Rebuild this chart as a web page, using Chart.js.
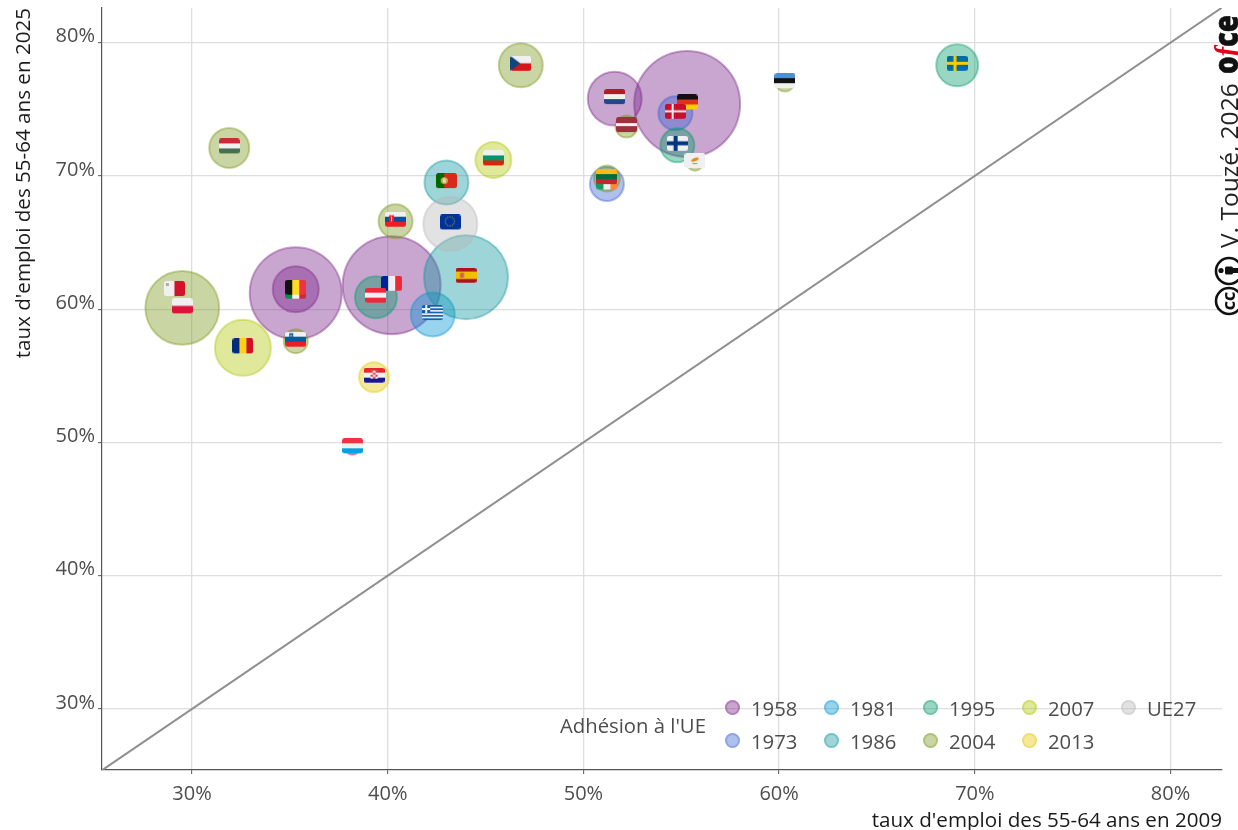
<!DOCTYPE html>
<html lang="fr">
<head>
<meta charset="utf-8">
<title>Taux d'emploi des 55-64 ans</title>
<script src="https://cdn.jsdelivr.net/npm/chart.js@4"></script>
<style>
  html, body { margin: 0; padding: 0; background: #fff; overflow: hidden; }
  #wrap { position: relative; width: 1238px; height: 830px; }
  #chart { position: absolute; left: 0; top: 0; }
  #legendTitle { position: absolute; left: 560px; top: 711px; font: 20.3px "Open Sans"; color: #4d4d4d; white-space: nowrap; }
  #legend { position: absolute; left: 725px; top: 691px; display: grid; grid-auto-flow: column;
            grid-template-rows: repeat(2, 33px); grid-template-columns: repeat(5, 99px); }
  #legend div { display: flex; align-items: center; font: 20.3px "Open Sans"; color: #4d4d4d; }
  #legend i { width: 11px; height: 11px; border-radius: 50%; border-width: 2px; border-style: solid; margin-right: 11px; }
  #credit { position: absolute; left: 1190px; top: 0; }
</style>
</head>
<body>
<div id="wrap">
  <canvas id="chart" width="1238" height="830"></canvas>
  <div id="legendTitle">Adhésion à l'UE</div>
  <div id="legend"></div>
  <svg id="credit" width="48" height="330" viewBox="1190 0 48 330">
    <g transform="translate(1238,248) rotate(-90)">
      <text font-family="Open Sans" font-size="24.5" fill="#222">V. Touzé, 2026</text>
    </g>
    <g transform="translate(1238,74) rotate(-90)" font-family="Open Sans" font-size="34" font-weight="800" fill="#111" stroke="#111" stroke-width="0.6">
      <text textLength="59" lengthAdjust="spacingAndGlyphs">o<tspan fill="#e2001a" stroke="none" font-style="italic" font-family="Liberation Serif">f</tspan>ce</text>
    </g>
    <g fill="none" stroke="#111" stroke-width="2.6">
      <circle cx="1229" cy="301" r="13"></circle>
      <circle cx="1229" cy="271" r="13"></circle>
    </g>
    <g transform="translate(1235,301) rotate(-90)">
      <text text-anchor="middle" font-family="Open Sans" font-weight="700" font-size="18" fill="#111">cc</text>
    </g>
    <circle cx="1221" cy="270.5" r="2.6" fill="#111"></circle>
    <rect x="1225" y="266.5" width="8" height="8" rx="1.5" fill="#111"></rect>
    <rect x="1232" y="268" width="6" height="5" fill="#111"></rect>
  </svg>
</div>
<script>
const countries = ['DE','NL','LV','CY','EE','SE','CZ','HU','BG','PT','SK','EU','ES','FR','GR','IT','BE','MT','PL','RO','SI','HR','LU','IE','LT','DK','FI','AT'];
const joinYear  = ['1958','1958','2004','2004','2004','1995','2004','2004','2007','1986','2004','UE27','1986','1958','1981','1958','1958','2004','2004','2007','2004','2013','1958','1973','2004','1973','1995','1995'];
const rate2009  = [55.3,51.6,52.2,55.7,60.3,69.1,46.8,31.9,45.4,43.0,40.4,43.2,44.0,40.2,42.3,35.3,35.3,29.1,29.5,32.6,35.3,39.3,38.2,51.2,51.2,54.7,54.8,39.4];
const rate2025  = [75.4,75.8,73.7,71.0,77.0,78.3,78.3,72.1,71.2,69.5,66.6,66.4,62.4,61.8,59.6,61.2,61.5,61.4,60.1,57.1,57.6,54.9,49.6,69.4,69.8,74.7,72.3,60.9];
const population = [13.0,3.37,0.56,0.30,0.37,2.04,2.24,1.85,1.50,2.24,1.34,3.37,8.16,11.1,2.24,9.8,2.45,0.12,6.3,3.63,0.67,1.04,0.23,1.34,0.78,1.34,1.34,2.04];

const years = ['1958','1973','1981','1986','1995','2004','2007','2013','UE27'];
const yearColors = ['120,32,135','55,97,207','0,148,212','12,150,157','0,155,102','120,150,22','175,197,5','227,200,0','182,182,182'];

const xTicks = [30,40,50,60,70,80];
const yTicks = [30,40,50,60,70,80];
const diagonal = [25.4,82.63];
const xRange = [25.4,82.63];
const yRange = [25.42,82.6];

const sizeK = 14.7; // rayon en px pour 1 million (racine)
const W = '#f0f0f0';

// bandes de chaque drapeau
const flagStripes = {
  DE:['h','#111111','#e0301e','#ffcc00'], NL:['h','#ae1c28',W,'#21468b'], LV:['h','#9e3039','#9e3039',W,'#9e3039','#9e3039'],
  CY:['h',W], EE:['h','#4891d9','#111111',W], SE:['h','#006aa7'], CZ:['h',W,'#d7141a'], HU:['h','#ce2939',W,'#477050'],
  BG:['h',W,'#00966e','#d62612'], PT:['v','#006600','#006600','#da291c','#da291c','#da291c'], SK:['h',W,'#0b4ea2','#ee1c25'],
  EU:['h','#003399'], ES:['h','#aa151b','#f1bf00','#f1bf00','#aa151b'], FR:['v','#002395',W,'#ed2939'],
  GR:['h','#0d5eaf',W,'#0d5eaf',W,'#0d5eaf',W,'#0d5eaf',W,'#0d5eaf'], IT:['v','#009246',W,'#ce2b37'], BE:['v','#111111','#fdda24','#ef3340'],
  MT:['v',W,'#cf142b'], PL:['h',W,'#dc143c'], RO:['v','#002b7f','#fcd116','#ce1126'], SI:['h',W,'#005da4','#ed1c24'],
  HR:['h','#e8262d',W,'#171796'], LU:['h','#ef3340',W,'#00a3e0'], IE:['v','#169b62',W,'#ff883e'], LT:['h','#fdb913','#006a44','#c1272d'],
  DK:['h','#c8102e'], FI:['h',W], AT:['h','#ed2939',W,'#ed2939']
};

function cross(c, w, h, color, t) {
  c.fillStyle = color;
  c.fillRect(w*0.32, 0, t, h);
  c.fillRect(0, h/2 - t/2, w, t);
}
function makeFlag(code) {
  const w = 21, h = 15;
  const cv = document.createElement('canvas');
  cv.width = w; cv.height = h + 4; // 4px de plus en bas : le drapeau est un peu au-dessus du centre
  const c = cv.getContext('2d');
  c.beginPath();
  c.roundRect(0, 0, w, h, 2.5);
  c.clip();
  const s = flagStripes[code], dir = s[0], bands = s.slice(1);
  bands.forEach((col, i) => {
    c.fillStyle = col;
    if (dir === 'h') c.fillRect(0, h*i/bands.length, w, h/bands.length + 0.5);
    else c.fillRect(w*i/bands.length, 0, w/bands.length + 0.5, h);
  });
  if (code === 'DK') cross(c, w, h, W, 2);
  if (code === 'FI') cross(c, w, h, '#003580', 4);
  if (code === 'SE') cross(c, w, h, '#fecc00', 3);
  if (code === 'CZ') { c.fillStyle = '#11457e'; c.beginPath(); c.moveTo(0,0); c.lineTo(10,h/2); c.lineTo(0,h); c.fill(); }
  if (code === 'GR') { c.fillStyle = '#0d5eaf'; c.fillRect(0,0,8,8); c.fillStyle = W; c.fillRect(3,0,2,8); c.fillRect(0,3,8,2); }
  if (code === 'CY') { c.fillStyle = '#e08a1e'; c.beginPath(); c.ellipse(10.5,6.5,4,1.5,-0.4,0,7); c.fill(); c.fillStyle = '#7ea56b'; c.fillRect(8,10,5,1); }
  if (code === 'MT') { c.fillStyle = '#b5a9ad'; c.fillRect(2,2,3,3); }
  if (code === 'PT') { c.fillStyle = '#c9a93a'; c.beginPath(); c.arc(8.4,7.5,3.6,0,7); c.fill(); c.fillStyle = '#e4d9d0'; c.fillRect(6.9,5.5,3,4); }
  if (code === 'ES') { c.fillStyle = '#c8625a'; c.fillRect(4.5,5,4,5); }
  if (code === 'SK') { c.fillStyle = '#ee1c25'; c.fillRect(4,3.5,5,7); c.fillStyle = W; c.fillRect(6,4.5,1,5); }
  if (code === 'SI') { c.fillStyle = '#005da4'; c.fillRect(4,1.5,4,5); c.fillStyle = W; c.fillRect(5.5,3,1,2); }
  if (code === 'HR') { c.fillStyle = '#d9464a'; c.fillRect(7,2,7,9); c.fillStyle = W; for (let i=0;i<4;i++) for (let j=0;j<3;j++) if ((i+j)%2) c.fillRect(7+j*2.4,3+i*2,2.4,2); }
  if (code === 'EU') { c.fillStyle = '#c9b23a'; for (let a=0;a<12;a++) c.fillRect(10+4.6*Math.cos(a*Math.PI/6)-0.5, 7+4.6*Math.sin(a*Math.PI/6)-0.5, 1, 1); }
  return cv;
}
const flagImages = countries.map(makeFlag);

// un dataset de bulles par année d'adhésion, 1958 dessous
const bubbleSets = years.map((yr, k) => {
  const pts = [];
  countries.forEach((_, i) => {
    if (joinYear[i] === yr) pts.push({x: rate2009[i], y: rate2025[i], r: sizeK*Math.sqrt(population[i])});
  });
  return {
    type: 'bubble', label: yr, data: pts, order: 20 - k,
    backgroundColor: `rgba(${yearColors[k]},0.4)`,
    borderColor: `rgba(${yearColors[k]},0.4)`,
    borderWidth: 2
  };
});

const flagSet = {
  type: 'scatter', label: 'drapeaux', order: 0,
  data: countries.map((_, i) => ({x: rate2009[i], y: rate2025[i]})),
  pointStyle: flagImages, pointRadius: 10, pointHoverRadius: 10
};
const diagSet = {
  type: 'line', label: 'diagonale', order: 30,
  data: diagonal.map(v => ({x: v, y: v})),
  borderColor: '#8f8f8f', borderWidth: 2, pointRadius: 0, fill: false
};

function axis(pos, range, ticks, title, thickness) {
  const isX = pos === 'bottom';
  return {
    type: 'linear', position: pos, min: range[0], max: range[1],
    afterBuildTicks: s => { s.ticks = ticks.map(v => ({value: v})); },
    afterFit: s => {
      if (isX) { s.height = thickness; s.paddingLeft = 0; s.paddingRight = 0; }
      else { s.width = thickness; s.paddingTop = 0; s.paddingBottom = 0; }
    },
    grid: { color: '#dedede', lineWidth: 1.3, tickColor: '#555', tickLength: 4, tickWidth: 1 },
    border: { color: '#555', width: 1.2 },
    ticks: { color: '#4d4d4d', font: {family: 'Open Sans', size: 20}, padding: isX ? 8 : 3, labelOffset: isX ? 0 : -6, maxRotation: 0, autoSkip: false, callback: v => v + '%' },
    title: { display: true, text: title, align: 'end', color: '#1a1a1a', font: {family: 'Open Sans', size: 20.6}, padding: isX ? {top: 0, bottom: -3} : {top: 0, bottom: 0} }
  };
}

new Chart(document.getElementById('chart'), {
  data: { datasets: [flagSet, ...bubbleSets, diagSet] },
  options: {
    responsive: false, animation: false,
    layout: { autoPadding: false, padding: {left: 12, top: 8, right: 16, bottom: 0} },
    plugins: { legend: {display: false}, tooltip: {enabled: false} },
    scales: {
      x: axis('bottom', xRange, xTicks, "taux d'emploi des 55-64 ans en 2009", 60),
      y: axis('left', yRange, yTicks, "taux d'emploi des 55-64 ans en 2025", 90)
    }
  }
});

// légende en colonnes
const legendBox = document.getElementById('legend');
years.forEach((yr, k) => {
  const d = document.createElement('div');
  const dot = document.createElement('i');
  dot.style.background = `rgba(${yearColors[k]},0.4)`;
  dot.style.borderColor = `rgba(${yearColors[k]},0.3)`;
  d.appendChild(dot);
  d.appendChild(document.createTextNode(yr));
  legendBox.appendChild(d);
});
</script>
</body>
</html>
